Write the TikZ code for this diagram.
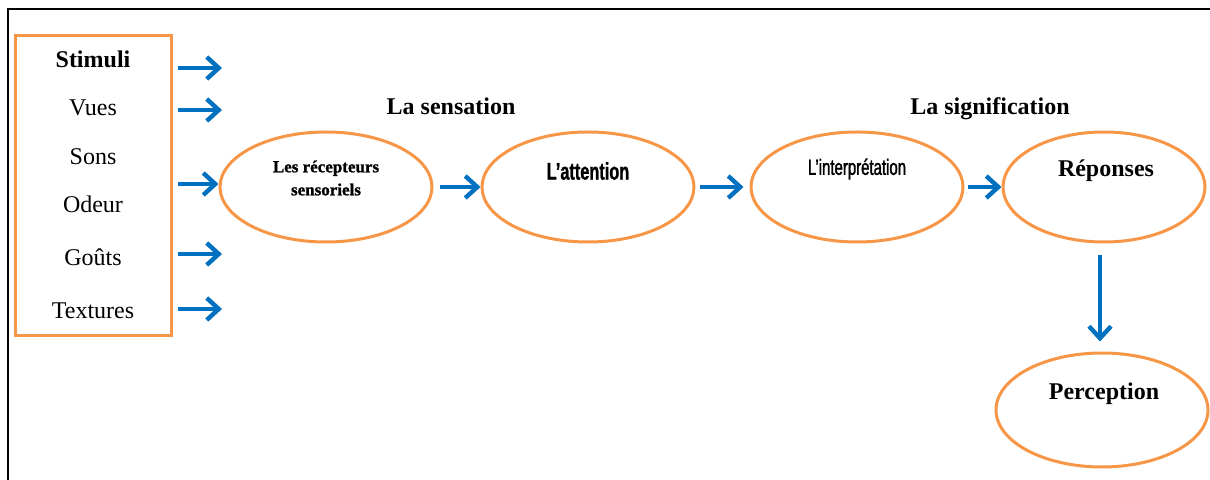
\documentclass[tikz,border=0pt]{standalone}
\usepackage{fontspec}
\setmainfont{Liberation Serif}
\newfontfamily\condbold[FakeStretch=0.68,FakeBold=1]{Liberation Sans Bold}
\newfontfamily\condreg[FakeStretch=0.68,FakeBold=1.5]{Liberation Sans}
\newfontfamily\serifbold[FakeBold=1.2]{Liberation Serif Bold}
\usetikzlibrary{shapes.geometric,arrows.meta}
\definecolor{orng}{HTML}{F79646}
\definecolor{blu}{HTML}{0070C0}
\tikzset{
  x=0.5pt,y=-0.5pt,
  oval/.style={draw=orng,line width=1.5pt,ellipse,minimum width=106pt,minimum height=55pt,inner sep=0pt},
  flow/.style={draw=blu,line width=2.2pt,-{Straight Barb[length=6pt,width=11pt]}},
  itemtxt/.style={font=\fontsize{12}{14}\selectfont,inner sep=0pt,anchor=base},
  ttl/.style={font=\fontsize{12}{14}\selectfont\bfseries,inner sep=0pt,anchor=base}
}
\begin{document}
\begin{tikzpicture}
\useasboundingbox (0,0) rectangle (1210,480);
% frame
\draw[line width=1.2pt] (8,480) -- (8,9) -- (1210,9);
% stimuli box
\node[draw=orng,line width=1.5pt,minimum width=78pt,minimum height=150pt,inner sep=0pt] (box) at (93,186) {};
\node[ttl] (s0) at (93,68) {Stimuli};
\node[itemtxt] (s1) at (93,116) {Vues};
\node[itemtxt] (s2) at (93,165) {Sons};
\node[itemtxt] (s3) at (93,213) {Odeur};
\node[itemtxt] (s4) at (93,266) {Goûts};
\node[itemtxt] (s5) at (93,319) {Textures};
% ellipses
\node[oval] (e1) at (326,187) {};
\node[oval] (e2) at (588,187) {};
\node[oval] (e3) at (857,187) {};
\node[oval,minimum width=101pt] (e4) at (1104,187) {};
\node[oval,minimum height=57pt] (e5) at (1102,410) {};
% ellipse texts
\node[inner sep=0pt,align=center,font=\fontsize{8.5}{11.5}\selectfont\serifbold] (t1) at (326,178) {Les récepteurs\\sensoriels};
\node[inner sep=0pt,font=\fontsize{12}{14}\selectfont\condbold] (t2) at (588,171) {L’attention};
\node[inner sep=0pt,font=\fontsize{11}{14}\selectfont\condreg] (t3) at (857,169) {L’interprétation};
\node[ttl] (t4) at (1106,177) {Réponses};
\node[ttl] (t5) at (1104,400) {Perception};
% headings
\node[ttl] (h1) at (451,115) {La sensation};
\node[ttl] (h2) at (990,115) {La signification};
% arrows from stimuli
\coordinate (a0) at (222,68);
\coordinate (a1) at (222,110);
\coordinate (a3) at (222,254);
\coordinate (a4) at (222,309);
\draw[flow] (box.east |- a0) ++(5,0) -- (a0);
\draw[flow] (box.east |- a1) ++(5,0) -- (a1);
\draw[flow] (box.east |- e1.west) ++(5,-3) -- ([yshift=1.5pt]e1.west);
\draw[flow] (box.east |- a3) ++(5,0) -- (a3);
\draw[flow] (box.east |- a4) ++(5,0) -- (a4);
% chain arrows
\draw[flow,shorten <=3pt] (e1.east) -- (e2.west);
\draw[flow,shorten <=2pt,shorten >=-1pt] (e2.east) -- ([xshift=-4pt]e3.west);
\draw[flow,shorten <=1.5pt] (e3.east) -- (e4.west);
\coordinate (vtop) at ([xshift=-2pt,yshift=-6pt]e4.south);
\draw[flow,shorten >=5pt] (vtop) -- (vtop |- e5.north);
\end{tikzpicture}
\end{document}
